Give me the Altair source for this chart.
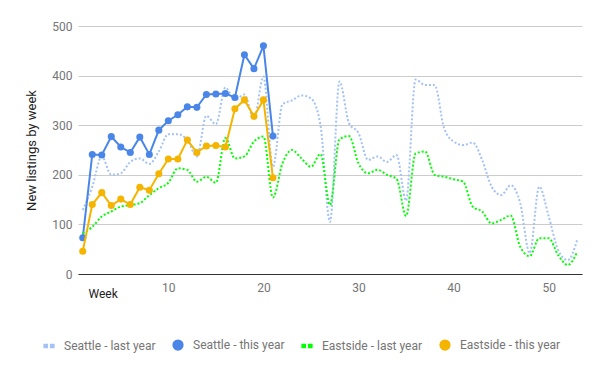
import altair as alt
import pandas as pd

weeks_all = list(range(1, 54))
weeks_this = list(range(1, 22))

seattle_last = [129, 176, 237, 200, 203, 226, 233, 222, 247, 282,
                282, 270, 237, 319, 302, 376, 351, 362, 312, 398,
                216, 342, 350, 360, 354, 300, 105, 388, 304, 284,
                230, 237, 226, 240, 148, 392, 381, 381, 294, 267,
                260, 265, 230, 176, 159, 179, 143, 42, 176, 116,
                48, 28, 69]
eastside_last = [82, 95, 116, 126, 136, 139, 143, 159, 173, 184,
                 213, 210, 186, 196, 184, 274, 233, 237, 267, 277,
                 154, 223, 250, 233, 216, 242, 139, 272, 278, 223,
                 203, 210, 200, 192, 117, 243, 247, 200, 196, 191,
                 186, 136, 126, 102, 109, 118, 55, 36, 72, 72,
                 38, 18, 45]
seattle_this = [73, 241, 240, 277, 256, 245, 276, 241, 290, 309,
                321, 337, 336, 362, 363, 364, 356, 442, 414, 460, 278]
eastside_this = [46, 140, 164, 138, 151, 140, 175, 169, 202, 232,
                 232, 270, 245, 258, 259, 256, 333, 351, 318, 351, 194]

series_names = ["Seattle - last year", "Seattle - this year",
                "Eastside - last year", "Eastside - this year"]
series_colors = ["#a4c2f4", "#4a86e8", "#00ff00", "#f4b400"]
y_ticks = [0, 100, 200, 300, 400, 500]
x_ticks = [10, 20, 30, 40, 50]

rows = []
for w, v in zip(weeks_all, seattle_last):
    rows.append({"week": w, "value": v, "series": series_names[0]})
for w, v in zip(weeks_this, seattle_this):
    rows.append({"week": w, "value": v, "series": series_names[1]})
for w, v in zip(weeks_all, eastside_last):
    rows.append({"week": w, "value": v, "series": series_names[2]})
for w, v in zip(weeks_this, eastside_this):
    rows.append({"week": w, "value": v, "series": series_names[3]})
df = pd.DataFrame(rows)

FONT = "Roboto"
dash_path = "M-1,-0.3H-0.34V0.3H-1Z M0.34,-0.3H1V0.3H0.34Z"
series_shapes = [dash_path, "circle", dash_path, "circle"]

x_enc = alt.X("week:Q",
              scale=alt.Scale(domain=[0.5, 53.5], nice=False, zero=False),
              axis=alt.Axis(title="Week", values=x_ticks, grid=False, ticks=False,
                            domainColor="#333333", domainWidth=1,
                            labelColor="#757575", labelFontSize=12, labelFont=FONT,
                            labelPadding=8, titleAnchor="start", titleAlign="left",
                            titleX=10, titleY=19, titleBaseline="middle",
                            titleFontWeight="normal", titleFont=FONT,
                            titleFontSize=12, titleColor="#222222"))
y_enc = alt.Y("value:Q",
              scale=alt.Scale(domain=[0, 500], nice=False),
              axis=alt.Axis(title="New listings by week", values=y_ticks, domain=False,
                            ticks=False, gridColor="#cccccc",
                            labelColor="#757575", labelFontSize=12, labelFont=FONT,
                            labelPadding=6, titlePadding=13,
                            titleFontWeight="normal", titleFont=FONT,
                            titleFontSize=13, titleColor="#222222"))

legend = alt.Legend(orient="none", direction="horizontal", legendX=-35, legendY=313,
                    title=None, symbolSize=95, symbolOpacity=1, padding=0,
                    labelOffset=9, columnPadding=14, labelFontSize=12,
                    labelFont=FONT, labelColor="#757575")


def color_enc(lg):
    return alt.Color("series:N",
                     scale=alt.Scale(domain=series_names, range=series_colors),
                     legend=lg)


def shape_enc(lg):
    return alt.Shape("series:N",
                     scale=alt.Scale(domain=series_names, range=series_shapes),
                     legend=lg)


base = alt.Chart(df)

# invisible layer that carries the legend (first so its legend settings win)
legend_layer = base.transform_filter(
    (alt.datum.series == series_names[1]) | (alt.datum.series == series_names[3])
).mark_point(filled=True, size=50, opacity=0).encode(
    x=x_enc, y=y_enc, color=color_enc(legend), shape=shape_enc(legend))


def dotted(name):
    return base.transform_filter(alt.datum.series == name).mark_line(
        interpolate="monotone", strokeDash=[2, 2], strokeWidth=2
    ).encode(x=x_enc, y=y_enc, color=color_enc(None))


def solid(name):
    return base.transform_filter(alt.datum.series == name).mark_line(
        strokeWidth=2
    ).encode(x=x_enc, y=y_enc, color=color_enc(None))


def pts(name):
    return base.transform_filter(alt.datum.series == name).mark_point(
        filled=True, size=50, opacity=1
    ).encode(x=x_enc, y=y_enc, color=color_enc(None), shape=shape_enc(None))


chart = alt.layer(
    legend_layer,
    dotted(series_names[0]),
    solid(series_names[1]),
    pts(series_names[1]),
    dotted(series_names[2]),
    solid(series_names[3]),
    pts(series_names[3]),
).properties(
    width=504, height=248,
    padding={"left": 70, "top": 18, "right": 10, "bottom": 80},
    autosize=alt.AutoSizeParams(type="none"),
).configure_view(stroke=None)

chart.save("out.html", embed_options={"renderer": "svg", "actions": False})
